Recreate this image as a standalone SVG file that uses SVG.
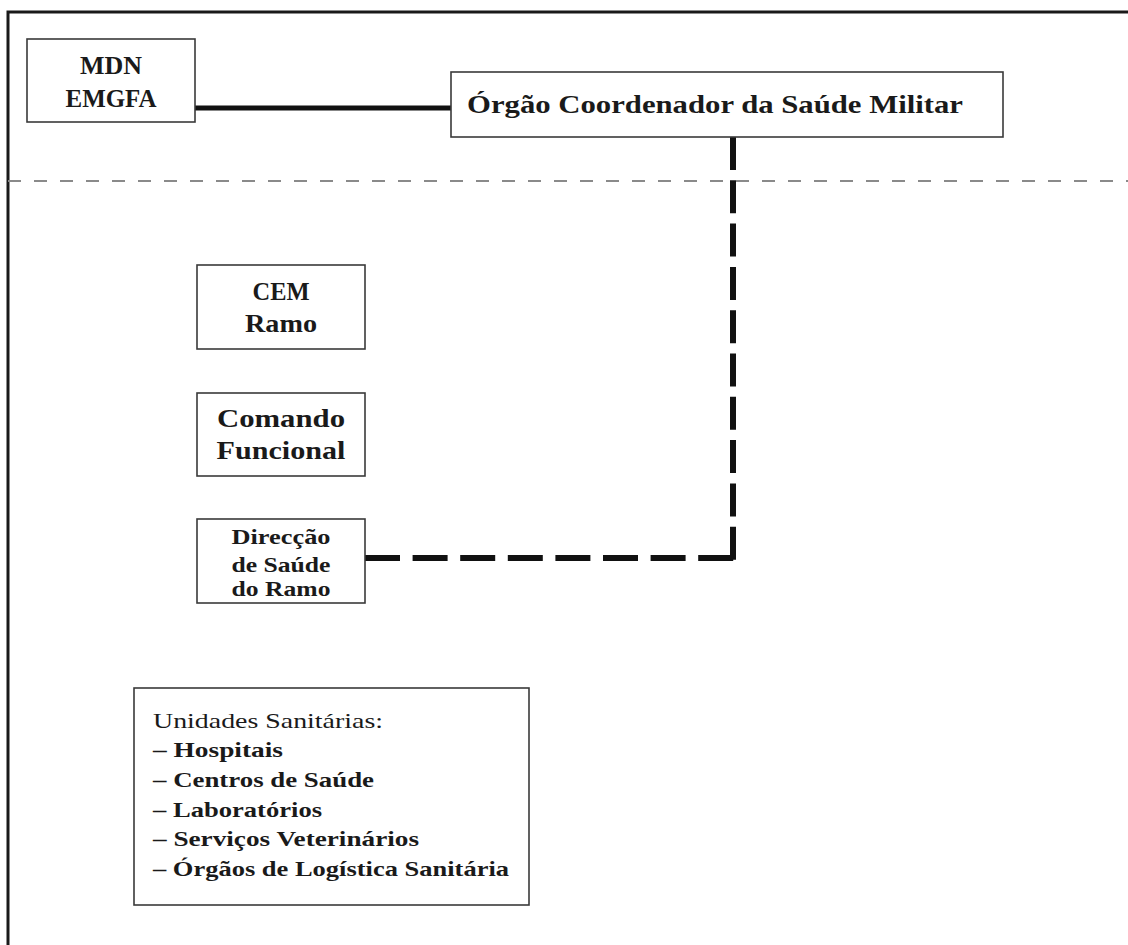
<svg xmlns="http://www.w3.org/2000/svg" width="1128" height="945" viewBox="0 0 1128 945">
<style>
.box{fill:#fff;stroke:#3a3a3a;stroke-width:1.6}
.t{font-family:"Liberation Serif","Times New Roman",serif;font-weight:bold;fill:#1a1a1a;text-anchor:middle}
.l{font-family:"Liberation Serif","Times New Roman",serif;fill:#1a1a1a}
</style>
<rect x="0" y="0" width="1128" height="945" fill="#fff"/>
<g id="frame">
<path d="M8,945 V12 H1128" fill="none" stroke="#1a1a1a" stroke-width="3"/>
<line x1="8" y1="181" x2="1128" y2="181" stroke="#8a8a8a" stroke-width="2" stroke-dasharray="13 13"/>
</g>
<g id="connectors">
<line x1="195" y1="108" x2="451" y2="108" stroke="#111" stroke-width="5"/>
<line x1="733" y1="137" x2="733" y2="561" stroke="#111" stroke-width="6" stroke-dasharray="33 10.3"/>
<line x1="365" y1="558" x2="736" y2="558" stroke="#111" stroke-width="6" stroke-dasharray="35 12.6"/>
</g>
<g id="mdn">
<rect class="box" x="27" y="39" width="168" height="83"/>
<text class="t" x="111" y="74" font-size="25" textLength="62" lengthAdjust="spacingAndGlyphs">MDN</text>
<text class="t" x="111" y="107" font-size="25" textLength="91" lengthAdjust="spacingAndGlyphs">EMGFA</text>
</g>
<g id="orgao">
<rect class="box" x="451" y="72" width="552" height="65"/>
<text class="t" x="715" y="113" font-size="25" textLength="496" lengthAdjust="spacingAndGlyphs">Órgão Coordenador da Saúde Militar</text>
</g>
<g id="cem">
<rect class="box" x="197" y="265" width="168" height="84"/>
<text class="t" x="281" y="300" font-size="26" textLength="57" lengthAdjust="spacingAndGlyphs">CEM</text>
<text class="t" x="281" y="332" font-size="26" textLength="72" lengthAdjust="spacingAndGlyphs">Ramo</text>
</g>
<g id="comando">
<rect class="box" x="197" y="393" width="168" height="83"/>
<text class="t" x="281" y="427" font-size="26" textLength="128" lengthAdjust="spacingAndGlyphs">Comando</text>
<text class="t" x="281" y="459" font-size="26" textLength="129" lengthAdjust="spacingAndGlyphs">Funcional</text>
</g>
<g id="direccao">
<rect class="box" x="197" y="519" width="168" height="84"/>
<text class="t" x="281" y="544" font-size="22" textLength="99" lengthAdjust="spacingAndGlyphs">Direcção</text>
<text class="t" x="281" y="572" font-size="22" textLength="99" lengthAdjust="spacingAndGlyphs">de Saúde</text>
<text class="t" x="281" y="596" font-size="22" textLength="99" lengthAdjust="spacingAndGlyphs">do Ramo</text>
</g>
<g id="unidades">
<rect class="box" x="134" y="688" width="395" height="217"/>
<text class="l" x="153" y="728" font-size="21" textLength="230" lengthAdjust="spacingAndGlyphs">Unidades Sanitárias:</text>
<text class="l" x="153" y="757" font-size="21" font-weight="bold" textLength="130" lengthAdjust="spacingAndGlyphs">– Hospitais</text>
<text class="l" x="153" y="787" font-size="21" font-weight="bold" textLength="221" lengthAdjust="spacingAndGlyphs">– Centros de Saúde</text>
<text class="l" x="153" y="817" font-size="21" font-weight="bold" textLength="169" lengthAdjust="spacingAndGlyphs">– Laboratórios</text>
<text class="l" x="153" y="846" font-size="21" font-weight="bold" textLength="266" lengthAdjust="spacingAndGlyphs">– Serviços Veterinários</text>
<text class="l" x="153" y="876" font-size="21" font-weight="bold" textLength="356" lengthAdjust="spacingAndGlyphs">– Órgãos de Logística Sanitária</text>
</g>
</svg>
